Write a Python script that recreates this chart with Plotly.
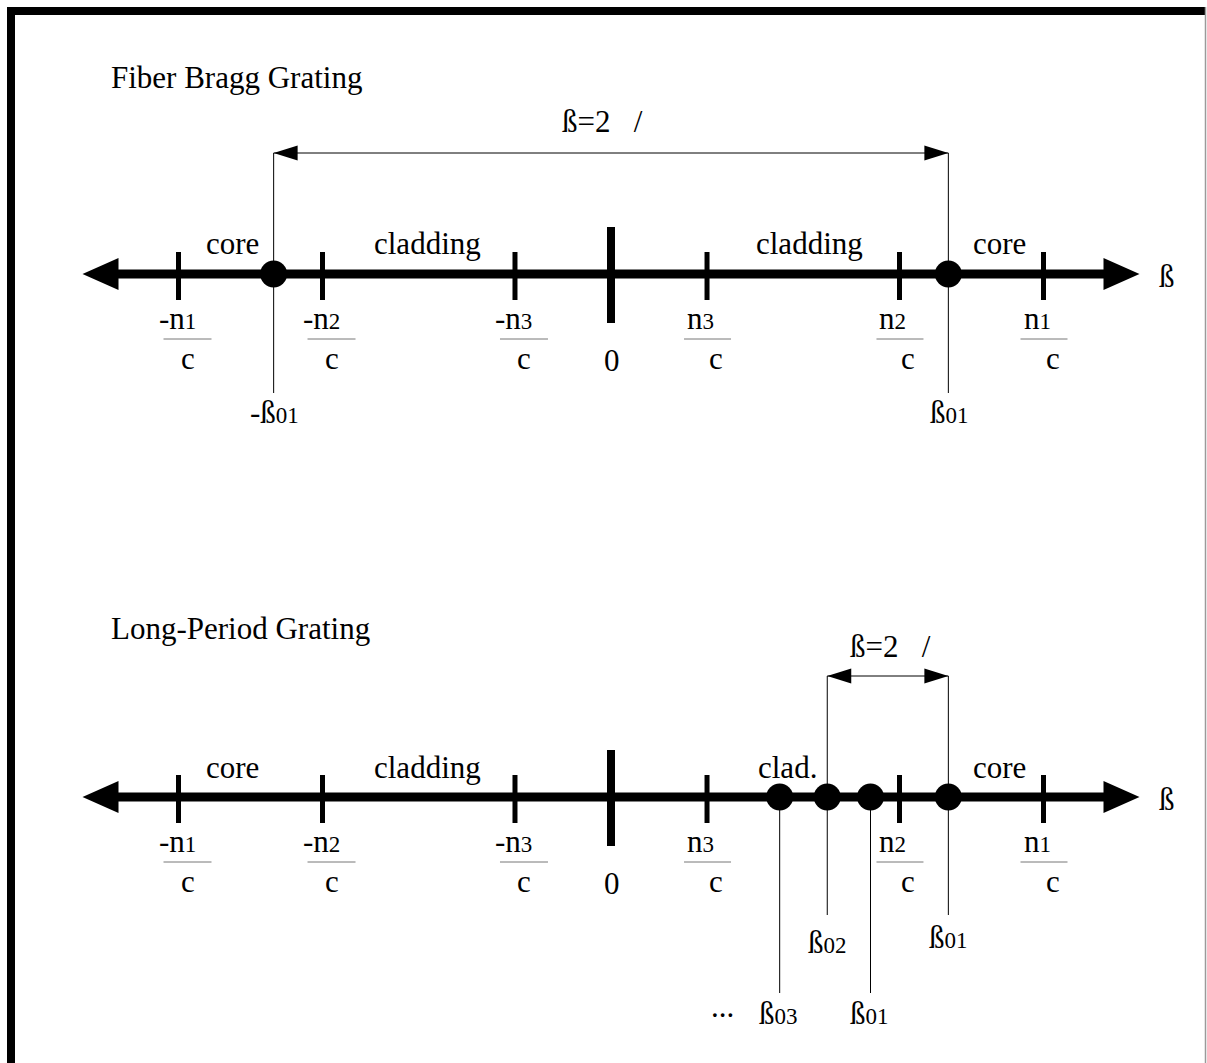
import plotly.graph_objects as go

SUB = '<span style="font-size:23px">{}</span>'

# ---------------- data (positions along the beta axis, in units of n1/c) ----------------
tick_values = [-1.0, -0.667, -0.222, 0.222, 0.667, 1.0]
tick_numerators = ["-n" + SUB.format("1"), "-n" + SUB.format("2"), "-n" + SUB.format("3"),
                   "n" + SUB.format("3"), "n" + SUB.format("2"), "n" + SUB.format("1")]
tick_denominator = "c"
zero_value = 0.0
zero_label = "0"

fbg_title = "Fiber Bragg Grating"
fbg_modes = [-0.78, 0.78]
fbg_mode_labels = ["-ß" + SUB.format("01"), "ß" + SUB.format("01")]
fbg_regions = ["core", "cladding", "cladding", "core"]

lpg_title = "Long-Period Grating"
lpg_modes = [0.39, 0.50, 0.60, 0.78]
lpg_mode_labels = ["ß" + SUB.format("03"), "ß" + SUB.format("02"),
                   "ß" + SUB.format("01"), "ß" + SUB.format("01")]
lpg_regions = ["core", "cladding", "clad.", "core"]

bracket_label = "ß=2\u00a0\u00a0\u00a0/"
axis_label = "ß"

# ---------------- layout constants ----------------
W, H = 1207, 1063
ORIGIN_PX = 611.0       # pixel column of beta = 0
S = 432.5               # pixels per unit
def px(d):
    return d / S

FONT = "Liberation Serif"
FS = 31
AX_END = 1.222
FBG_Y = 274
LPG_Y = 797
BLACK = "#000000"

shapes = []
annotations = []

def line(x0, y0, x1, y1, w=1, color=BLACK, xref="x"):
    shapes.append(dict(type="line", xref=xref, yref="y", x0=x0, y0=y0, x1=x1, y1=y1,
                       line=dict(color=color, width=w), layer="above"))

def tri(points, color=BLACK):
    p = "M " + " L ".join(f"{x},{y}" for x, y in points) + " Z"
    shapes.append(dict(type="path", xref="x", yref="y", path=p, fillcolor=color,
                       line=dict(color=color, width=0), layer="above"))

def text(x, y, s, xanchor="center", xshift=0, size=FS, xref="x"):
    annotations.append(dict(x=x, y=y, xref=xref, yref="y", text=s, showarrow=False,
                            xanchor=xanchor, yanchor="middle", xshift=xshift,
                            font=dict(family=FONT, size=size, color=BLACK)))

def draw_axis(A):
    line(-AX_END + px(30), A, AX_END - px(30), A, w=9)
    tri([(-AX_END, A), (-AX_END + px(36), A - 16), (-AX_END + px(36), A + 16)])
    tri([(AX_END, A), (AX_END - px(36), A - 16), (AX_END - px(36), A + 16)])
    for v, num in zip(tick_values, tick_numerators):
        line(v, A - 22, v, A + 26, w=5)
        if v < 0:
            line(v + px(-15), A + 65, v + px(33), A + 65, w=1, color="#777777")
        else:
            line(v + px(-23), A + 65, v + px(24), A + 65, w=1, color="#777777")
        text(v, A + 44, num, xanchor="left", xshift=-22)
        text(v, A + 84, tick_denominator, xshift=9)
    line(zero_value, A - 47, zero_value, A + 49, w=8)
    text(zero_value, A + 86, zero_label, xshift=1)
    text(AX_END, A + 2, axis_label, xanchor="left", xshift=17)

def bracket(xa, xb, y):
    line(xa, y, xb, y, w=1)
    tri([(xa, y), (xa + px(24), y - 7.5), (xa + px(24), y + 7.5)])
    tri([(xb, y), (xb - px(24), y - 7.5), (xb - px(24), y + 7.5)])

# ---------------- border ----------------
shapes.append(dict(type="rect", xref="paper", yref="y", x0=7 / W, x1=15 / W, y0=7, y1=H,
                   fillcolor=BLACK, line=dict(width=0)))
shapes.append(dict(type="rect", xref="paper", yref="y", x0=7 / W, x1=1206 / W, y0=7, y1=15,
                   fillcolor=BLACK, line=dict(width=0)))
line(1205.5 / W, 7, 1205.5 / W, H, w=1.5, color="#9a9a9a", xref="paper")

# ---------------- Fiber Bragg Grating ----------------
text(109 / W, 77, fbg_title, xanchor="left", xref="paper")
draw_axis(FBG_Y)
region_x = [-0.876, -0.425, 0.460, 0.899]
for lab, x in zip(fbg_regions, region_x):
    text(x, FBG_Y - 31, lab)
for v, lab in zip(fbg_modes, fbg_mode_labels):
    line(v, 153, v, 393, w=1)
    text(v, 412, lab, xshift=1)
bracket(fbg_modes[0], fbg_modes[1], 153)
text(0, 121, bracket_label, xanchor="left", xshift=-51)

# ---------------- Long-Period Grating ----------------
text(109 / W, 628, lpg_title, xanchor="left", xref="paper")
draw_axis(LPG_Y)
region_x2 = [-0.876, -0.425, 0.407, 0.899]
for lab, x in zip(lpg_regions, region_x2):
    text(x, LPG_Y - 30, lab)
# upper modes (bracketed): beta02 and core beta01
for v, lab, ly in [(lpg_modes[1], lpg_mode_labels[1], 942), (lpg_modes[3], lpg_mode_labels[3], 937)]:
    line(v, 676, v, 915, w=1)
    text(v, ly, lab)
# lower modes: beta03 and cladding beta01
for v, lab in [(lpg_modes[0], lpg_mode_labels[0]), (lpg_modes[2], lpg_mode_labels[2])]:
    line(v, LPG_Y, v, 993, w=1)
    text(v, 1013, lab, xshift=-1)
text(lpg_modes[0], 1006, "...", xshift=-57)
bracket(lpg_modes[1], lpg_modes[3], 676)
text(lpg_modes[1], 646, bracket_label, xanchor="left", xshift=21)

fig = go.Figure()
fig.add_trace(go.Scatter(x=fbg_modes, y=[FBG_Y] * len(fbg_modes), mode="markers",
                         marker=dict(size=27, color=BLACK), hoverinfo="skip", showlegend=False))
fig.add_trace(go.Scatter(x=lpg_modes, y=[LPG_Y] * len(lpg_modes), mode="markers",
                         marker=dict(size=27, color=BLACK), hoverinfo="skip", showlegend=False))

fig.update_layout(
    width=W, height=H, margin=dict(l=0, r=0, t=0, b=0),
    paper_bgcolor="white", plot_bgcolor="white",
    xaxis=dict(range=[-ORIGIN_PX / S, (W - ORIGIN_PX) / S], visible=False, fixedrange=True),
    yaxis=dict(range=[H, 0], visible=False, fixedrange=True),
    shapes=shapes, annotations=annotations, showlegend=False,
)
fig.write_html("out.html", config={"displayModeBar": False},
               post_script="document.body.style.margin='0';")
